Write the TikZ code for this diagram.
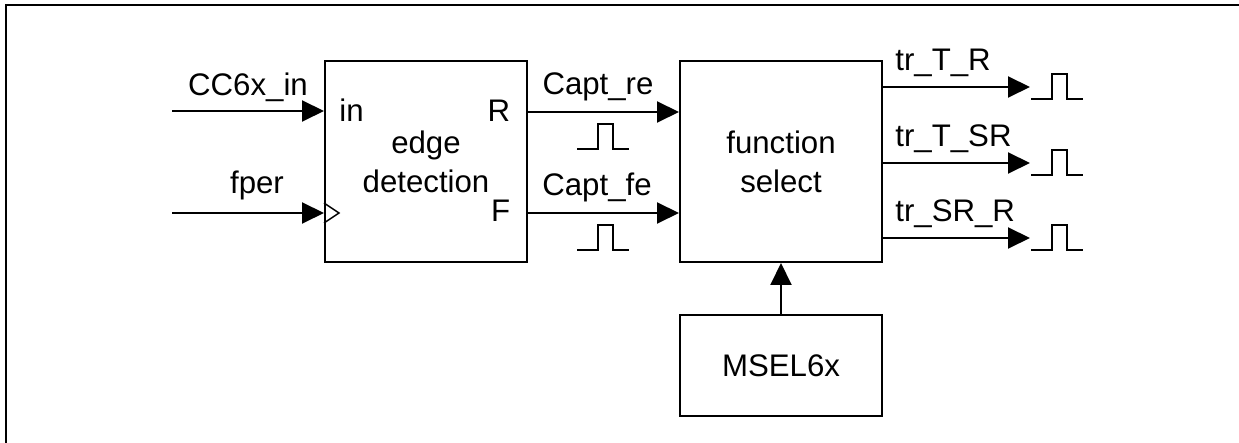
\documentclass[tikz,border=0pt]{standalone}
\usepackage{fontspec}
\setmainfont{Liberation Sans}
\usetikzlibrary{arrows.meta, positioning}

\begin{document}
\begin{tikzpicture}[
    x=0.5pt, y=-0.5pt,
    every node/.style={font=\fontsize{15.6}{19.6}\selectfont, inner sep=0pt},
    % Estilo para los bloques (rectángulos con borde negro)
    bloque/.style={
        draw, line width=1pt, align=center,
        minimum width=101pt, minimum height=100.5pt
    },
    % Estilo para las señales (flechas negras)
    flecha/.style={
        line width=1pt, -{Triangle[length=11pt, width=10.5pt]}
    },
    % Pulso rectangular
    pulso/.pic={
        \draw[line width=1pt] (0,0) -- (21,0) -- (21,-25) -- (36,-25) -- (36,0) -- (52,0);
    }
]
    % --- MARGENES ---
    \useasboundingbox (0,0) rectangle (1239,443);
    \draw[line width=1.2pt] (6,443) -- (6,5) -- (1239,5);

    % 1. Bloques
    \node[bloque] (edge) at (426,161.5) {edge\\detection};
    \node[bloque, right=75.5pt of edge] (fsel) {function\\select};
    \node[bloque, below=25.5pt of fsel, minimum height=50.5pt] (msel) {MSEL6x};

    % 2. Entradas
    \coordinate (ccin) at (172,111);
    \coordinate (fper) at (172,213);
    \draw[flecha] (ccin) -- (ccin -| edge.west);
    \draw[flecha] (fper) -- (fper -| edge.west);
    \node[anchor=base] (lccin) at (248,96) {CC6x\_in};
    \node[anchor=base] (lfper) at (257,194) {fper};

    % Reloj
    \draw[line width=0.7pt] (fper -| edge.west) ++(0,-10) -- ++(15,10) -- ++(-15,10);

    % 3. Pines del bloque
    \node[anchor=base west] (pinIn) at (339,122) {in};
    \node[anchor=base east] (pinR) at (510.5,122) {R};
    \node[anchor=base east] (pinF) at (510.5,222) {F};

    % 4. Capturas R / F
    \coordinate (sRe) at (527,112);
    \coordinate (sFe) at (527,213);
    \draw[flecha] (sRe) -- (sRe -| fsel.west);
    \draw[flecha] (sFe) -- (sFe -| fsel.west);
    \node[anchor=base] (lcapre) at (598,95) {Capt\_re};
    \node[anchor=base] (lcapfe) at (597,196) {Capt\_fe};
    \pic at (577,149) {pulso};
    \pic at (577,250) {pulso};

    % 5. Modo
    \draw[flecha] (msel.north) -- (msel.north |- fsel.south);

    % 6. Salidas
    \foreach \yy/\txt [count=\i] in {87/tr\_T\_R, 163/tr\_T\_SR, 238/tr\_SR\_R} {
        \coordinate (sal\i) at (1030,\yy);
        \draw[flecha] (sal\i -| fsel.east) -- (sal\i);
        \node[anchor=base west] (lsal\i) at (895,\yy-16) {\txt};
        \pic at (1031,\yy+12) {pulso};
    }

\end{tikzpicture}
\end{document}
